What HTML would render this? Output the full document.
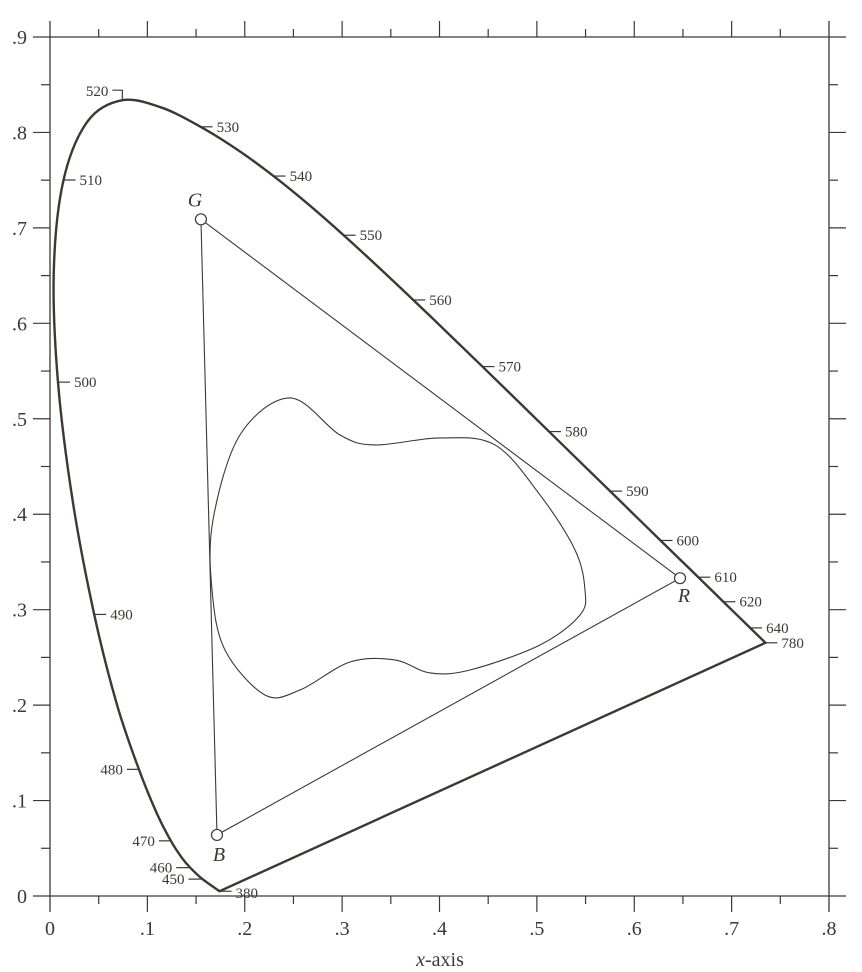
<!DOCTYPE html>
<html><head><meta charset="utf-8"><style>
html,body{margin:0;padding:0;background:#fff;}
svg{display:block;font-family:"Liberation Serif",serif;}
</style></head><body>
<svg id="chart" width="862" height="972" viewBox="0 0 862 972" xmlns="http://www.w3.org/2000/svg"></svg>
<script>
const locusWl = [380,450,460,465,470,475,480,485,490,495,500,505,510,515,520,525,530,535,540,545,550,555,560,565,570,575,580,585,590,595,600,605,610,620,630,640,660,780];
const locusX = [0.1741,0.1566,0.1440,0.1355,0.1241,0.1096,0.0913,0.0687,0.0454,0.0235,0.0082,0.0039,0.0139,0.0389,0.0743,0.1142,0.1547,0.1929,0.2296,0.2658,0.3016,0.3373,0.3731,0.4087,0.4441,0.4788,0.5125,0.5448,0.5752,0.6029,0.6270,0.6482,0.6658,0.6915,0.7079,0.7190,0.7300,0.7347];
const locusY = [0.0050,0.0177,0.0297,0.0399,0.0578,0.0868,0.1327,0.2007,0.2950,0.4127,0.5384,0.6548,0.7502,0.8120,0.8338,0.8262,0.8059,0.7816,0.7543,0.7243,0.6923,0.6589,0.6245,0.5896,0.5547,0.5202,0.4866,0.4544,0.4242,0.3965,0.3725,0.3514,0.3340,0.3083,0.2920,0.2809,0.2700,0.2653];
const labelWl = [380,450,460,470,480,490,500,510,520,530,540,550,560,570,580,590,600,610,620,640,780];
const primNames = ["G","R","B"];
const primX = [0.155,0.647,0.1715];
const primY = [0.709,0.333,0.064];
const gamutX = [0.2465,0.2978,0.3338,0.4005,0.4570,0.5032,0.5392,0.5494,0.5443,0.5032,0.4313,0.3902,0.3543,0.3081,0.2567,0.2208,0.1797,0.1664,0.1674,0.1951];
const gamutY = [0.5218,0.4830,0.4726,0.4799,0.4726,0.4202,0.3625,0.3206,0.2944,0.2630,0.2368,0.2337,0.2473,0.2452,0.2158,0.2106,0.2578,0.3206,0.3940,0.4830];
const xTicks = [0,0.1,0.2,0.3,0.4,0.5,0.6,0.7,0.8];
const xTickLabels = ["0",".1",".2",".3",".4",".5",".6",".7",".8"];
const yTicks = [0,0.1,0.2,0.3,0.4,0.5,0.6,0.7,0.8,0.9];
const yTickLabels = ["0",".1",".2",".3",".4",".5",".6",".7",".8",".9"];

const X0=50,X1=829,Y0=896,Y1=37;
const sx = v => X0 + v/0.8*(X1-X0);
const sy = v => Y0 - v/0.9*(Y0-Y1);
const C="#3d3833";
const svg=document.getElementById('chart');
const NS="http://www.w3.org/2000/svg";
function mk(tag,attrs,parent){const e=document.createElementNS(NS,tag);for(const k in attrs)e.setAttribute(k,attrs[k]);(parent||svg).appendChild(e);return e;}

const frame=mk('g',{});


mk('line',{x1:X0,y1:21,x2:X0,y2:912,stroke:C,'stroke-width':1.3},frame);
mk('line',{x1:X1,y1:21,x2:X1,y2:912,stroke:C,'stroke-width':1.3},frame);
mk('line',{x1:33,y1:Y1,x2:846,y2:Y1,stroke:C,'stroke-width':1.3},frame);
mk('line',{x1:33,y1:Y0,x2:846,y2:Y0,stroke:C,'stroke-width':1.3},frame);
const ticks=mk('g',{stroke:C,'stroke-width':1.2});


for(let i=0;i<xTicks.length;i++){
  const x=sx(xTicks[i]);
  if(i>0&&i<xTicks.length-1){mk('line',{x1:x,y1:Y1,x2:x,y2:21},ticks);mk('line',{x1:x,y1:Y0,x2:x,y2:912},ticks);}
  if(i<xTicks.length-1){const xm=sx(xTicks[i]+0.05);mk('line',{x1:xm,y1:Y1,x2:xm,y2:29},ticks);mk('line',{x1:xm,y1:Y0,x2:xm,y2:904},ticks);}
  const t=mk('text',{x:x,y:935,'text-anchor':'middle','font-size':20,fill:C});
  t.textContent=xTickLabels[i];
  
  
}
for(let i=0;i<yTicks.length;i++){
  const y=sy(yTicks[i]);
  if(i>0&&i<yTicks.length-1){mk('line',{x1:X0,y1:y,x2:33,y2:y},ticks);mk('line',{x1:X1,y1:y,x2:846,y2:y},ticks);}
  if(i<yTicks.length-1){const ym=sy(yTicks[i]+0.05);mk('line',{x1:X0,y1:ym,x2:41,y2:ym},ticks);mk('line',{x1:X1,y1:ym,x2:838,y2:ym},ticks);}
  const t=mk('text',{x:27,y:y+7,'text-anchor':'end','font-size':20,fill:C});
  t.textContent=yTickLabels[i];
  
  
}
const xt=mk('text',{x:440,y:966,'text-anchor':'middle','font-size':20,fill:C});
xt.innerHTML='<tspan font-style="italic">x</tspan>-axis';



function catmull(px,py,closed){
  const n=px.length;let d=`M${px[0]},${py[0]}`;
  const g=i=>closed?((i%n)+n)%n:Math.max(0,Math.min(n-1,i));
  const segs=closed?n:n-1;
  for(let i=0;i<segs;i++){
    const a=g(i-1),b=g(i),c=g(i+1),e=g(i+2);
    const c1x=px[b]+(px[c]-px[a])/6,c1y=py[b]+(py[c]-py[a])/6;
    const c2x=px[c]-(px[e]-px[b])/6,c2y=py[c]-(py[e]-py[b])/6;
    d+=` C${c1x},${c1y} ${c2x},${c2y} ${px[c]},${py[c]}`;
  }
  return closed?d+'Z':d;
}
const lpx=locusX.map(sx),lpy=locusY.map(sy);
const locus=mk('path',{d:catmull(lpx,lpy,false)+'Z',fill:'none',stroke:C,'stroke-width':2.4,'stroke-linejoin':'miter'});



const lg=mk('g',{});


for(const wl of labelWl){
  const k=locusWl.indexOf(wl);
  const x=lpx[k],y=lpy[k];
  let side = (wl>=490||wl===380)?1:-1;
  if(wl===520){
    mk('path',{d:`M${x},${y} L${x},${y-10} L${x-10},${y-10}`,fill:'none',stroke:C,'stroke-width':1.2},lg);
    const t=mk('text',{x:x-14,y:y-4,'text-anchor':'end','font-size':15,fill:C},lg);t.textContent=wl;
    continue;
  }
  const len=wl===450||wl===460?14:12;
  const x2=x+side*len;
  mk('line',{x1:x,y1:y,x2:x2,y2:y,stroke:C,'stroke-width':1.2},lg);
  let ty=y+5;
  if(wl===380)ty=y+2+5;
  const t=mk('text',{x:x2+side*4,y:ty,'text-anchor':side>0?'start':'end','font-size':15,fill:C},lg);
  t.textContent=wl;
}

const tri=mk('polygon',{points:primX.map((v,i)=>sx(v)+','+sy(primY[i])).join(' '),fill:'none',stroke:C,'stroke-width':1.1});


const lblOff=[[-6,-13],[4,24],[2,26]];
for(let i=0;i<primX.length;i++){
  const c=mk('circle',{cx:sx(primX[i]),cy:sy(primY[i]),r:5.5,fill:'#fff',stroke:C,'stroke-width':1.2});
  
  
  const t=mk('text',{x:sx(primX[i])+lblOff[i][0],y:sy(primY[i])+lblOff[i][1],'text-anchor':'middle','font-size':20,'font-style':'italic',fill:C});
  t.textContent=primNames[i];
  
  
}
const gm=mk('path',{d:catmull(gamutX.map(sx),gamutY.map(sy),true),fill:'none',stroke:C,'stroke-width':1.1});


</script>
</body></html>
